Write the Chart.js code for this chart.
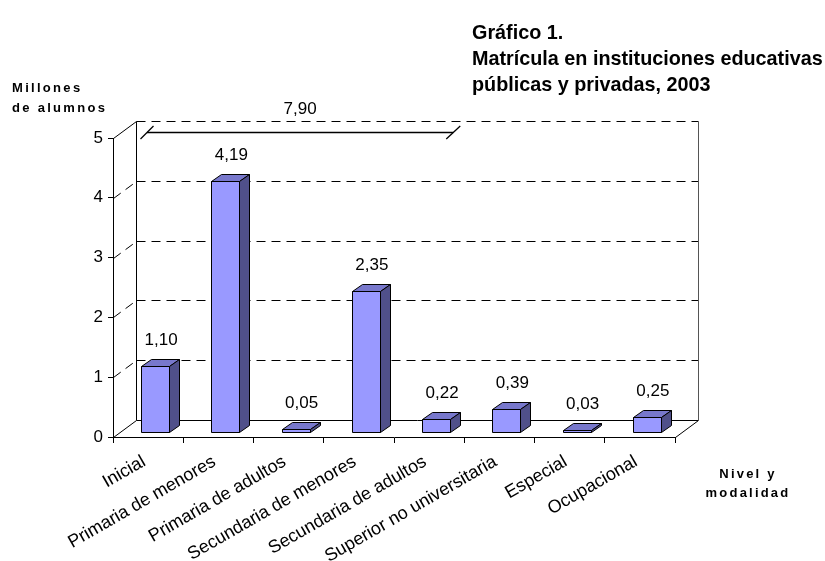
<!DOCTYPE html>
<html>
<head>
<meta charset="utf-8">
<script src="https://cdn.jsdelivr.net/npm/chart.js@4.4.0/dist/chart.umd.min.js"></script>
<style>
html, body { margin: 0; padding: 0; background: #fff; }
#wrap { position: relative; width: 825px; height: 561px; overflow: hidden; font-family: "Liberation Sans", Arial, sans-serif; color: #000; }
canvas { position: absolute; left: 0; top: 0; }
.t { position: absolute; font-weight: bold; white-space: nowrap; }
</style>
</head>
<body>
<div id="wrap">
  <canvas id="grafico" width="825" height="561"></canvas>
  <div class="t" style="left:472px;top:19px;font-size:19.8px;line-height:26px;">Gráfico 1.<br>Matrícula en instituciones educativas<br>públicas y privadas, 2003</div>
  <div class="t" style="left:12px;top:78px;font-size:13px;line-height:20px;letter-spacing:2.3px;">Millones<br>de alumnos</div>
  <div class="t" style="left:700px;top:464px;width:96px;text-align:center;font-size:13px;line-height:19px;letter-spacing:2.2px;">Nivel y<br>modalidad</div>
</div>
<script>
// ===== datos =====
const niveles = ['Inicial', 'Primaria de menores', 'Primaria de adultos', 'Secundaria de menores',
                 'Secundaria de adultos', 'Superior no universitaria', 'Especial', 'Ocupacional'];
const matricula = [1.10, 4.19, 0.05, 2.35, 0.22, 0.39, 0.03, 0.25];
const yTicks = [0, 1, 2, 3, 4, 5];
// llave sobre los primeros niveles (total 7,90)
const llaveDesde = 0, llaveHasta = 4;
const llaveTotal = 7.90;

const fmt = v => v.toFixed(2).replace('.', ',');
const FUENTE = '"Liberation Sans", Arial, sans-serif';

// ===== profundidad 3D =====
const DX = 23, DY = -17;        // fondo de la caja
const BDX = 10, BDY = -7;       // profundidad de cada barra
const BSX = 7, BSY = -5;        // desplazamiento de la cara frontal de la barra
const FRENTE = '#9999ff', TECHO = '#7878cc', LADO = '#50508a';

function linea(ctx, x1, y1, x2, y2) {
  ctx.beginPath(); ctx.moveTo(x1, y1); ctx.lineTo(x2, y2); ctx.stroke();
}

const caja3d = {
  id: 'caja3d',
  beforeDatasetsDraw(chart) {
    const { ctx, chartArea: a, scales: { y } } = chart;
    const L = a.left + 0.5, R = a.right + 0.5, B = Math.round(y.getPixelForValue(0)) + 0.5;
    const T = Math.round(y.getPixelForValue(5)) + 0.5;
    ctx.save();
    ctx.strokeStyle = '#000'; ctx.lineWidth = 1;
    // líneas de división (pared del fondo y pared lateral)
    ctx.setLineDash([9, 6]);
    yTicks.forEach(v => {
      if (v === 0) return;
      const py = Math.round(y.getPixelForValue(v)) + 0.5;
      if (v < 5) linea(ctx, L, py, L + DX, py + DY);
      linea(ctx, L + DX, py + DY, R + DX, py + DY);
    });
    ctx.setLineDash([]);
    // aristas
    linea(ctx, L, T, L + DX, T + DY);
    linea(ctx, L + DX, T + DY, L + DX, B + DY);
    linea(ctx, L, B, L + DX, B + DY);
    linea(ctx, L + DX, B + DY, R + DX, B + DY);
    linea(ctx, R, B, R + DX, B + DY);
    ctx.strokeStyle = '#555';
    linea(ctx, R + DX, T + DY, R + DX, B + DY);
    ctx.restore();
  },
  afterDatasetsDraw(chart) {
    const { ctx } = chart;
    const meta = chart.getDatasetMeta(0);
    ctx.save();
    ctx.strokeStyle = '#000'; ctx.lineWidth = 1; ctx.lineJoin = 'round';
    meta.data.forEach((el, i) => {
      const w = el.width;
      const cx = el.x + BSX;
      const x0 = Math.round(cx - w / 2) + 0.5, x1 = Math.round(cx + w / 2) + 0.5;
      const yb = Math.round(el.base + BSY) + 0.5, yt = Math.round(el.y + BSY) + 0.5;
      // cara frontal
      ctx.fillStyle = FRENTE;
      ctx.beginPath(); ctx.rect(x0, yt, x1 - x0, yb - yt); ctx.fill(); ctx.stroke();
      // techo
      ctx.fillStyle = TECHO;
      ctx.beginPath();
      ctx.moveTo(x0, yt); ctx.lineTo(x0 + BDX, yt + BDY); ctx.lineTo(x1 + BDX, yt + BDY); ctx.lineTo(x1, yt);
      ctx.closePath(); ctx.fill(); ctx.stroke();
      // lado
      ctx.fillStyle = LADO;
      ctx.beginPath();
      ctx.moveTo(x1, yt); ctx.lineTo(x1 + BDX, yt + BDY); ctx.lineTo(x1 + BDX, yb + BDY); ctx.lineTo(x1, yb);
      ctx.closePath(); ctx.fill(); ctx.stroke();
      // etiqueta de valor
      ctx.fillStyle = '#000';
      ctx.font = '17px ' + FUENTE;
      ctx.textAlign = 'center'; ctx.textBaseline = 'alphabetic';
      ctx.fillText(fmt(matricula[i]), cx + 6, el.y + BSY - 21);
    });
    ctx.restore();
  },
  afterDraw(chart) {
    // llave con el total
    const { ctx, scales: { x, y } } = chart;
    const medio = (x.getPixelForValue(1) - x.getPixelForValue(0)) / 2;
    const xi = x.getPixelForValue(llaveDesde) - medio + 34;
    const xf = x.getPixelForValue(llaveHasta) + medio - 11;
    const yl = Math.round(y.getPixelForValue(5)) - 5.5;
    ctx.save();
    ctx.strokeStyle = '#000'; ctx.lineWidth = 1.3;
    linea(ctx, xi - 6.5, yl + 6.5, xi + 6.5, yl - 6.5);
    linea(ctx, xi, yl, xf, yl);
    linea(ctx, xf - 7, yl + 6.5, xf + 7, yl - 6.5);
    ctx.fillStyle = '#000';
    ctx.font = '17px ' + FUENTE;
    ctx.textAlign = 'center'; ctx.textBaseline = 'alphabetic';
    ctx.fillText(fmt(llaveTotal), (xi + xf) / 2, yl - 19);
    ctx.restore();
  }
};

// ===== gráfico =====
const ctx = document.getElementById('grafico').getContext('2d');
new Chart(ctx, {
  type: 'bar',
  data: {
    labels: niveles,
    datasets: [{
      data: matricula,
      backgroundColor: 'rgba(0,0,0,0)',
      borderWidth: 0,
      barPercentage: 0.4,
      categoryPercentage: 1
    }]
  },
  options: {
    responsive: false,
    animation: false,
    layout: { padding: { left: 0, right: 150, top: 138, bottom: 0 } },
    plugins: { legend: { display: false }, tooltip: { enabled: false } },
    scales: {
      x: {
        offset: true,
        grid: { offset: true, drawOnChartArea: false, color: '#000', tickLength: 6 },
        border: { color: '#000', width: 1 },
        ticks: { color: '#000', font: { family: FUENTE, size: 18 }, minRotation: 30, maxRotation: 30, autoSkip: false, padding: 8, labelOffset: -4 },
        afterFit: s => { s.height = 124; }
      },
      y: {
        min: 0, max: 5,
        grid: { drawOnChartArea: false, color: '#000', tickLength: 5 },
        border: { color: '#000', width: 1 },
        ticks: { stepSize: 1, color: '#000', font: { family: FUENTE, size: 17 }, padding: 5 },
        afterFit: s => { s.width = 113; }
      }
    }
  },
  plugins: [caja3d]
});
</script>
</body>
</html>
